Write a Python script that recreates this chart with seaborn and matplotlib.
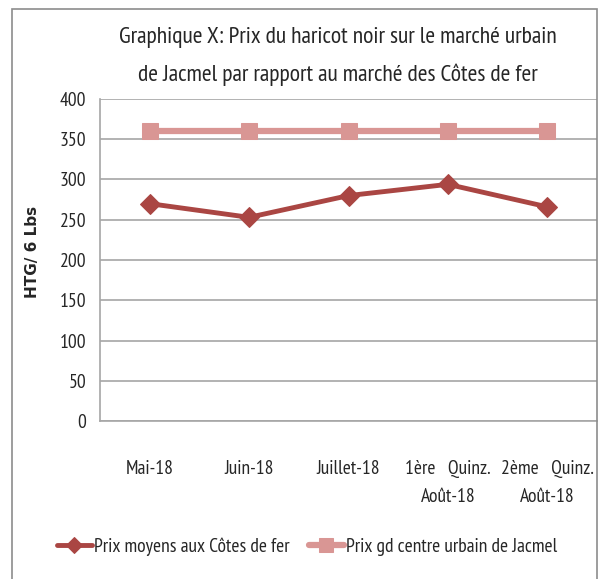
import pandas as pd
import matplotlib
matplotlib.use('Agg')
import matplotlib.pyplot as plt
import seaborn as sns
from matplotlib.patches import Rectangle

# Data
mois = ['Mai-18', 'Juin-18', 'Juillet-18', '1ère   Quinz.\nAoût-18', '2ème   Quinz.\nAoût-18']
prix_cotes_de_fer = [270, 253, 280, 294, 266]
prix_jacmel = [360, 360, 360, 360, 360]

sns.set_style('white')
plt.rcParams['font.family'] = ['PT Sans Narrow', 'DejaVu Sans']

df = pd.DataFrame({
    'mois': mois * 2,
    'prix': prix_cotes_de_fer + prix_jacmel,
    'serie': ['Prix moyens aux Côtes de fer'] * 5 + ['Prix gd centre urbain de Jacmel'] * 5,
})

fig = plt.figure(figsize=(5.98, 5.79), dpi=100)
ax = fig.add_axes([100 / 598, 1 - 421 / 579, 497 / 598, 322 / 579])

# Outer chart frame
fig.patches.append(Rectangle((12 / 598, -0.01), 585 / 598, 1 - 9 / 579 + 0.01,
                             transform=fig.transFigure, fill=False,
                             edgecolor='#8c8c8c', linewidth=1.2))

sns.lineplot(data=df[df.serie == 'Prix moyens aux Côtes de fer'], x='mois', y='prix',
             color='#AA4643', marker='D', markersize=10, linewidth=3.5,
             markeredgecolor='#AA4643', ax=ax, label='Prix moyens aux Côtes de fer', sort=False)
sns.lineplot(data=df[df.serie == 'Prix gd centre urbain de Jacmel'], x='mois', y='prix',
             color='#D99694', marker='s', markersize=12, linewidth=4.5,
             markeredgecolor='#D99694', ax=ax, label='Prix gd centre urbain de Jacmel', sort=False)

ax.set_xlim(-0.5, 4.5)
ax.set_ylim(0, 400)
ax.set_yticks(range(0, 401, 50))
ax.yaxis.grid(True, color='#a6a6a6', linewidth=1.2)
ax.set_axisbelow(True)

for side in ['top', 'right']:
    ax.spines[side].set_visible(False)
ax.spines['left'].set_color('#a6a6a6')
ax.spines['bottom'].set_color('#a6a6a6')
ax.spines['left'].set_linewidth(1.2)
ax.spines['bottom'].set_linewidth(1.2)

ax.set_xticks(range(5))
ax.set_xticklabels(mois, fontsize=14, linespacing=1.75)
ax.set_xticks([i - 0.5 for i in range(6)], minor=True)
ax.tick_params(axis='x', which='major', length=0, pad=28)
ax.tick_params(axis='x', which='minor', length=6, color='#a6a6a6', direction='out')
ax.tick_params(axis='y', length=6, color='#a6a6a6', labelsize=14, direction='out', pad=4)
ax.set_xlabel('')
ax.set_ylabel('HTG/ 6 Lbs', fontsize=11, fontweight='bold', family='DejaVu Sans')
ax.yaxis.set_label_coords(-0.121, 0.525)

fig.text(338 / 598, 1 - 38 / 579, 'Graphique X: Prix du haricot noir sur le marché urbain',
         ha='center', va='center', fontsize=17)
fig.text(338 / 598, 1 - 75 / 579, 'de Jacmel par rapport au marché des Côtes de fer',
         ha='center', va='center', fontsize=17)

ax.legend(loc='center', bbox_to_anchor=(307 / 598, 1 - 547 / 579), bbox_transform=fig.transFigure,
          ncol=2, frameon=False, fontsize=14, handlelength=1.8, handletextpad=0.1,
          columnspacing=1.0, markerscale=0.8)

fig.savefig('out.png', dpi=100)
